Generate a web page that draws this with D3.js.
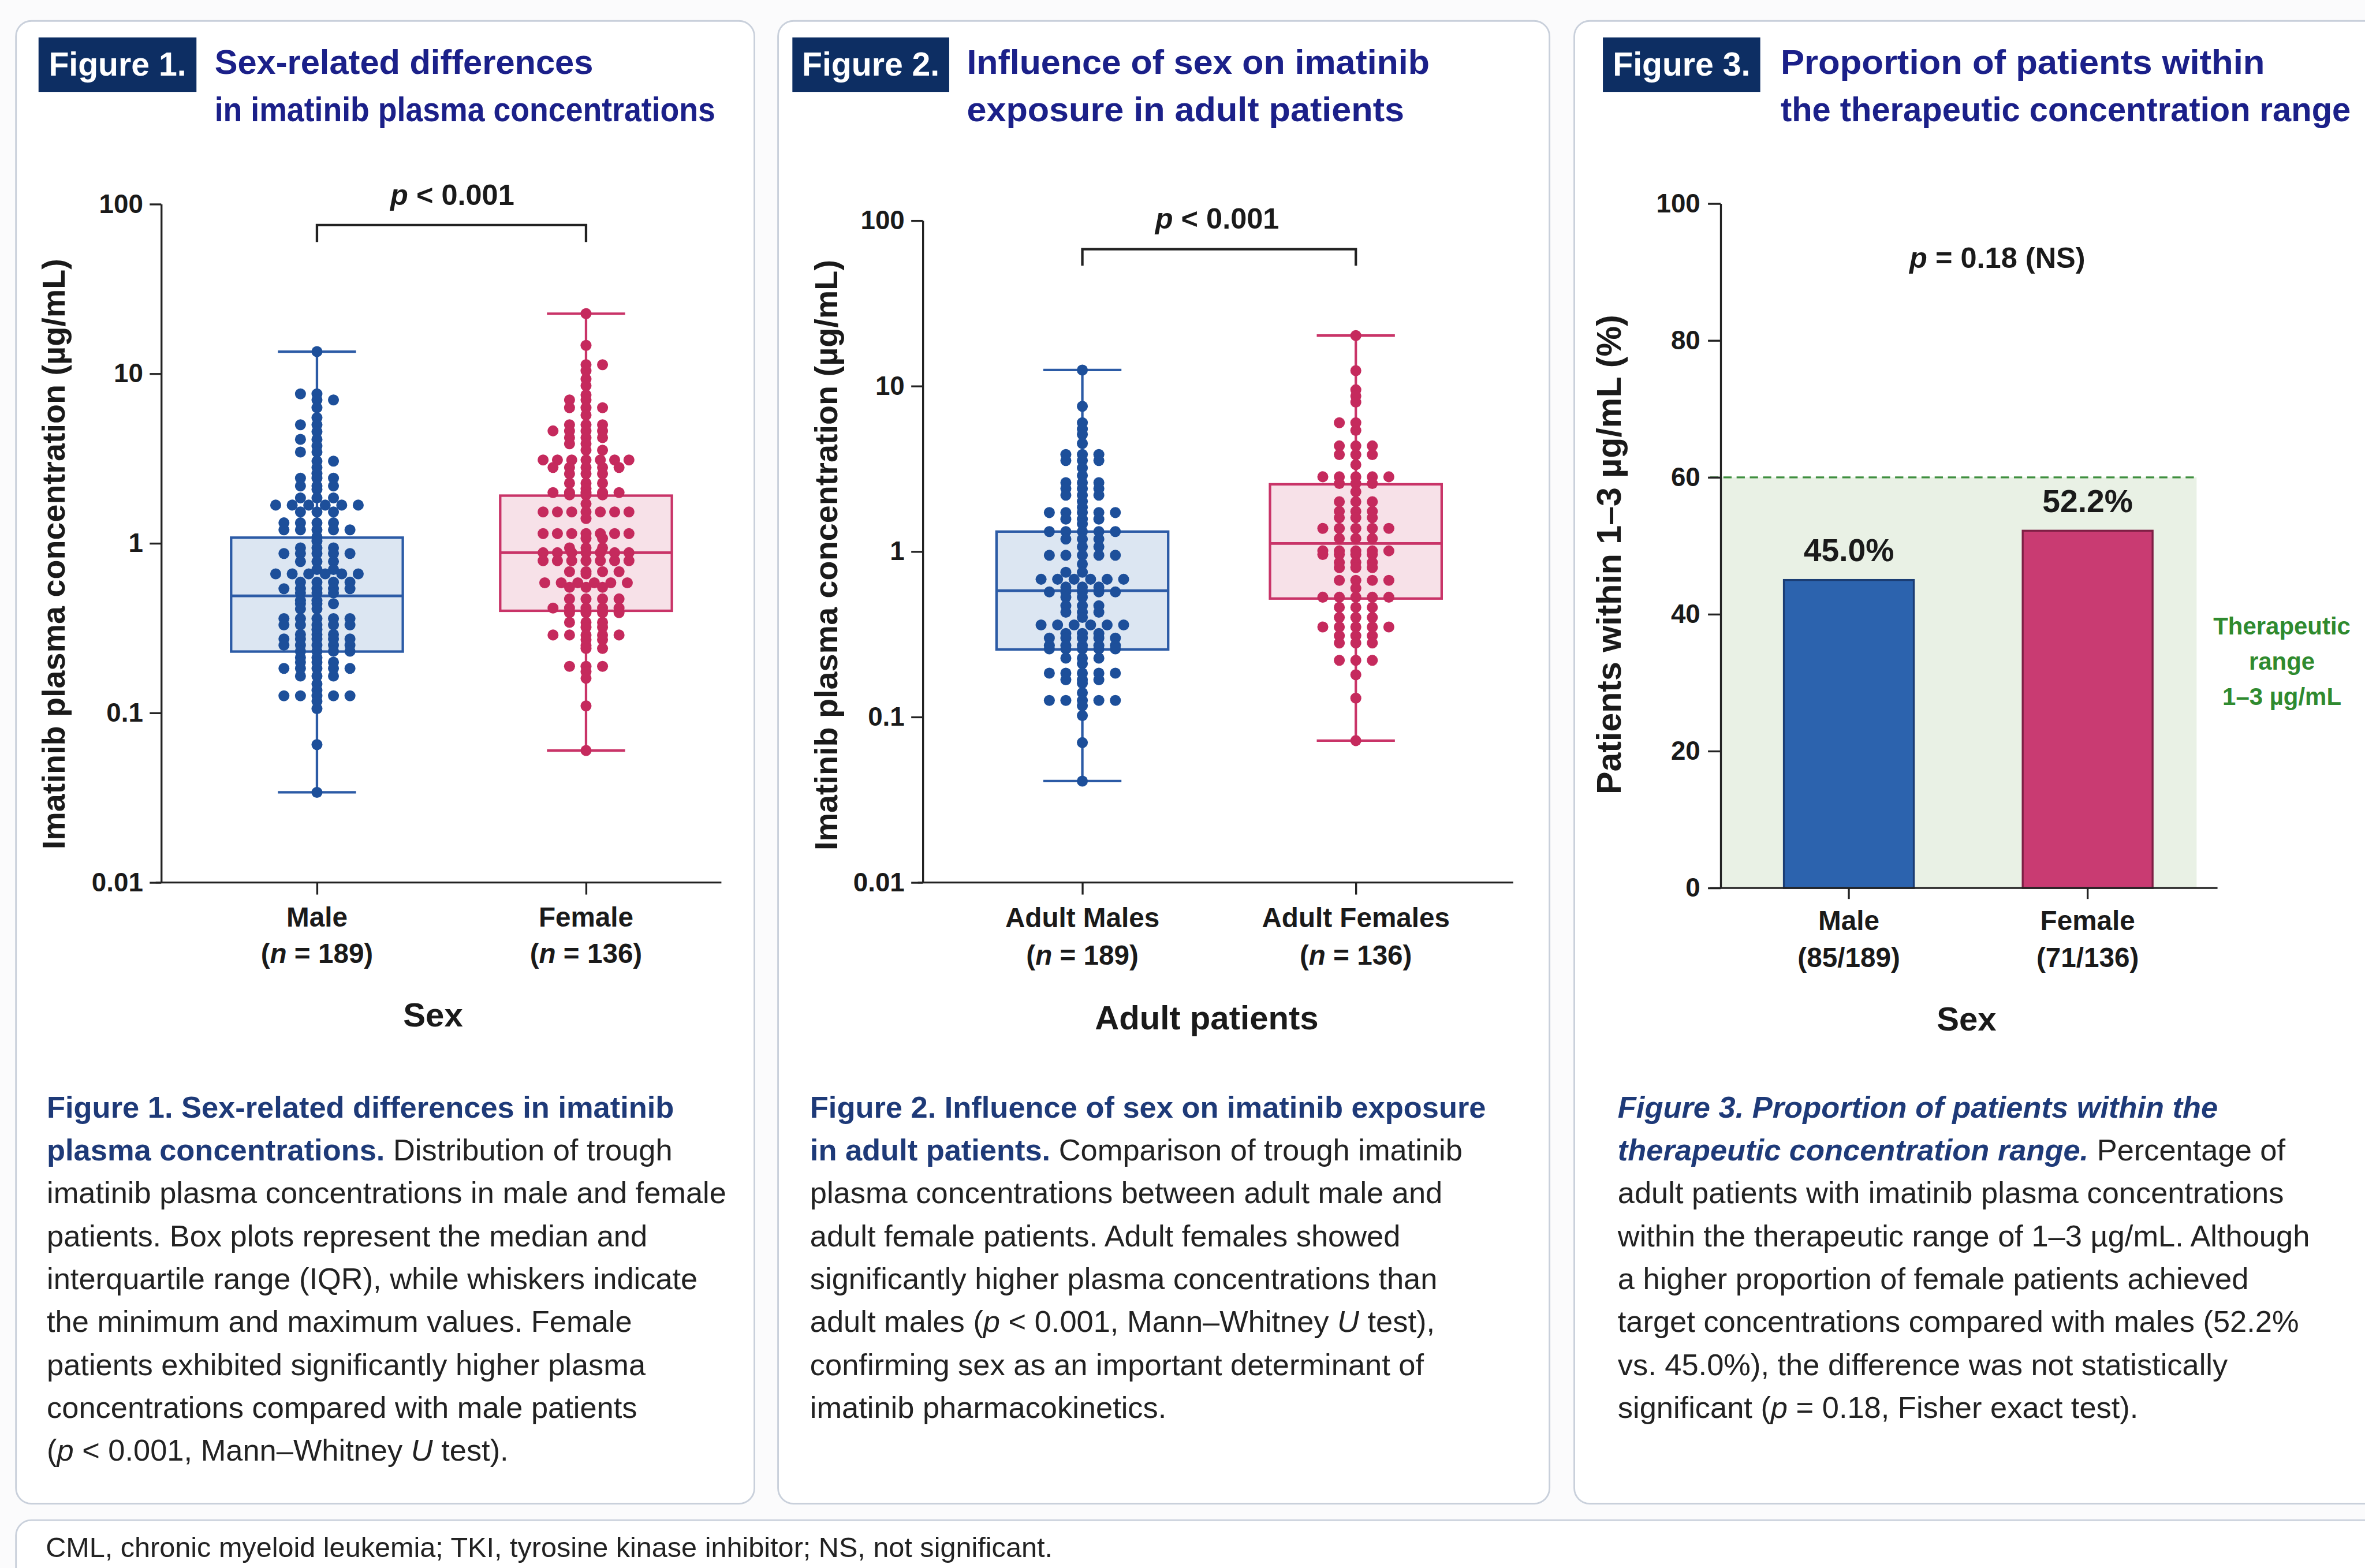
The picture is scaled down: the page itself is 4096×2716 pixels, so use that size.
<!DOCTYPE html>
<html>
<head>
<meta charset="utf-8">
<script src="https://cdn.jsdelivr.net/npm/d3@7"></script>
<style>
  html, body { margin: 0; padding: 0; background: #fbfbfc; }
  svg { display: block; }
  text { white-space: pre; }
</style>
</head>
<body>
<div id="chart"></div>
<script>
// reference is 4298 x 2850, page is drawn at 0.953 of it
var svgWidth = 4096, svgHeight = 2716;
var refWidth = 4298, refHeight = 2850;
var fontFamily = '"Liberation Sans", Arial, Helvetica, sans-serif';

// ---------- data ----------
var sexGroups = ["Male", "Female"];
var adultGroups = ["Adult Males", "Adult Females"];
var groupN = ["189", "136"];
var logTicks = [0.01, 0.1, 1, 10, 100];
var logTickLabels = ["0.01", "0.1", "1", "10", "100"];

// box stats: [min, q1, median, q3, max]  (µg/mL)
var fig1MaleBox = [0.034, 0.23, 0.49, 1.08, 13.5];
var fig1FemaleBox = [0.060, 0.40, 0.88, 1.91, 22.6];
var fig2MaleBox = [0.041, 0.256, 0.58, 1.32, 12.5];
var fig2FemaleBox = [0.072, 0.52, 1.12, 2.55, 20.2];

// individual points, grouped as [value, how many at that value]
var fig1MaleDots = [[13.5,1],[7.6,2],[7.0,2],[6.3,1],[5.5,1],[5.0,2],[4.55,1],[4.1,2],[3.75,1],[3.45,2],
  [3.05,2],[2.8,1],[2.58,1],[2.42,3],[2.18,3],[2.08,1],[1.85,3],[1.68,6],[1.53,3],[1.32,4],[1.2,5],
  [1.09,1],[1.03,1],[0.94,3],[0.87,5],[0.78,3],[0.70,2],[0.66,6],[0.59,4],[0.54,5],[0.51,3],[0.46,2],
  [0.44,3],[0.41,2],[0.36,5],[0.33,5],[0.31,1],[0.29,3],[0.273,5],[0.251,5],[0.231,4],[0.212,2],
  [0.199,3],[0.183,5],[0.165,3],[0.148,1],[0.136,1],[0.126,5],[0.117,1],[0.106,1],[0.065,1],[0.034,1]];
var fig1FemaleDots = [[22.6,1],[14.7,1],[11.3,2],[10.4,1],[9.3,1],[8.5,1],[7.5,1],[7.0,2],[6.3,3],[5.7,1],
  [5.0,3],[4.6,4],[4.2,3],[3.86,2],[3.54,2],[3.1,7],[2.8,5],[2.57,3],[2.26,3],[2.1,1],[1.99,5],[1.93,3],
  [1.71,1],[1.53,7],[1.4,1],[1.14,7],[1.07,2],[0.94,3],[0.88,7],[0.79,7],[0.68,4],[0.66,1],[0.585,6],
  [0.55,3],[0.47,4],[0.415,5],[0.39,4],[0.342,3],[0.32,2],[0.288,5],[0.27,2],[0.25,1],[0.24,2],
  [0.188,3],[0.175,1],[0.16,1],[0.11,1],[0.06,1]];
var fig2MaleDots = [[12.5,1],[7.55,1],[6.0,1],[5.5,1],[5.1,1],[4.5,1],[3.86,3],[3.55,3],[3.2,1],[2.88,1],
  [2.61,3],[2.40,3],[2.19,3],[2.01,1],[1.85,1],[1.72,5],[1.57,3],[1.47,1],[1.32,5],[1.19,3],[1.07,2],
  [0.95,5],[0.84,1],[0.75,2],[0.68,6],[0.61,3],[0.57,5],[0.53,2],[0.47,3],[0.43,3],[0.40,1],[0.36,6],
  [0.32,3],[0.30,5],[0.27,5],[0.258,5],[0.227,3],[0.21,1],[0.184,5],[0.168,3],[0.16,1],[0.14,1],
  [0.126,5],[0.117,1],[0.102,1],[0.070,1],[0.041,1]];
var fig2FemaleDots = [[20.2,1],[12.4,1],[9.5,1],[8.7,1],[8.0,1],[6.0,2],[5.4,1],[4.35,3],[3.85,3],[3.35,1],
  [2.83,5],[2.58,3],[2.3,1],[2.0,3],[1.75,3],[1.6,3],[1.38,5],[1.2,3],[1.01,5],[0.96,4],[0.86,3],[0.80,3],
  [0.67,4],[0.60,1],[0.53,5],[0.46,3],[0.40,3],[0.35,5],[0.31,3],[0.28,3],[0.22,3],[0.18,1],[0.13,1],[0.072,1]];

// figure 3
var barCategories = ["Male", "Female"];
var barFractions = ["(85/189)", "(71/136)"];
var barPercent = [45.0, 52.2];
var pctTicks = [0, 20, 40, 60, 80, 100];
var therapeuticZone = [0, 60];

var dotColors = ["#1d4f9a", "#c52a5d"];
var boxFills = ["#dce6f2", "#f7e1e8"];
var boxStrokes = ["#2c5ba6", "#c93468"];

// ---------- svg ----------
var svg = d3.select("#chart").append("svg")
  .attr("width", svgWidth)
  .attr("height", svgHeight)
  .attr("viewBox", `0 0 ${refWidth} ${refHeight}`)
  .style("font-family", fontFamily);

svg.append("rect").attr("width", refWidth).attr("height", refHeight).attr("fill", "#fbfbfc");

// panel cards
var cards = [[29, 38, 1342, 2695], [1414, 38, 1402, 2695], [2861, 38, 1500, 2695], [29, 2763, 4400, 200]];
cards.forEach(function(c) {
  svg.append("rect")
    .attr("x", c[0]).attr("y", c[1]).attr("width", c[2]).attr("height", c[3])
    .attr("rx", 28)
    .attr("fill", "#ffffff")
    .attr("stroke", "#c9d0db")
    .attr("stroke-width", 3);
});

// headers; title widths follow the reference
function header(x0, boxW, label, lines, widths, titleX) {
  svg.append("rect").attr("x", x0).attr("y", 68).attr("width", boxW).attr("height", 99).attr("fill", "#0d2e63");
  svg.append("text")
    .attr("x", x0 + boxW / 2).attr("y", 137)
    .attr("text-anchor", "middle")
    .attr("fill", "#ffffff").attr("font-size", 60).attr("font-weight", "bold")
    .text(label);
  lines.forEach(function(t, i) {
    svg.append("text")
      .attr("x", titleX).attr("y", 134 + i * 86)
      .attr("fill", "#1b2089").attr("font-size", 62).attr("font-weight", "bold")
      .attr("textLength", widths[i]).attr("lengthAdjust", "spacingAndGlyphs")
      .text(t);
  });
}
header(70, 287, "Figure 1.", ["Sex-related differences", "in imatinib plasma concentrations"], [688, 910], 390);
header(1440, 285, "Figure 2.", ["Influence of sex on imatinib", "exposure in adult patients"], [841, 795], 1757);
header(2913, 286, "Figure 3.", ["Proportion of patients within", "the therapeutic concentration range"], [880, 1036], 3236);

function styleAxis(sel, size) {
  sel.attr("font-family", null).attr("font-size", null);
  sel.select(".domain").attr("stroke", "#222").attr("stroke-width", 3.5);
  sel.selectAll(".tick line").attr("stroke", "#222").attr("stroke-width", 3.5);
  sel.selectAll(".tick text").attr("fill", "#1a1a1a").attr("font-size", size).attr("font-weight", "bold");
}

// rows of equal values spread sideways, like a column scatter
function rowDots(rows, cx, y) {
  var pts = [];
  rows.forEach(function(r, k) {
    var n = r[1];
    var step = n > 5 ? Math.min(30, 156 / (n - 1)) : 30;
    var side = k % 2 ? -1 : 1;
    for (var i = 0; i < n; i++) {
      var slot = i === 0 ? 0 : Math.ceil(i / 2) * (i % 2 ? side : -side);
      if (n > 5) slot = i - (n - 1) / 2;
      pts.push({ x: cx + slot * step, y: y(r[0]) });
    }
  });
  return pts;
}

function boxPanel(cfg) {
  var g = svg.append("g");
  var y = d3.scaleLog().domain([0.01, 100]).range([cfg.bottom, cfg.top]);
  var x = d3.scalePoint().domain(cfg.cats).range(cfg.centers);

  cfg.boxes.forEach(function(b, i) {
    var cx = x(cfg.cats[i]);
    var col = boxStrokes[i];
    // whiskers
    g.append("line").attr("x1", cx).attr("x2", cx).attr("y1", y(b[0])).attr("y2", y(b[1]))
      .attr("stroke", col).attr("stroke-width", 4.5);
    g.append("line").attr("x1", cx).attr("x2", cx).attr("y1", y(b[3])).attr("y2", y(b[4]))
      .attr("stroke", col).attr("stroke-width", 4.5);
    [b[0], b[4]].forEach(function(v) {
      g.append("line").attr("x1", cx - 71).attr("x2", cx + 71).attr("y1", y(v)).attr("y2", y(v))
        .attr("stroke", col).attr("stroke-width", 4.5);
    });
    // box
    g.append("rect")
      .attr("x", cx - 156).attr("width", 312)
      .attr("y", y(b[3])).attr("height", y(b[1]) - y(b[3]))
      .attr("fill", boxFills[i]).attr("stroke", col).attr("stroke-width", 4.5);
    g.append("line").attr("x1", cx - 156).attr("x2", cx + 156).attr("y1", y(b[2])).attr("y2", y(b[2]))
      .attr("stroke", col).attr("stroke-width", 5);
    // points
    g.selectAll(null)
      .data(rowDots(cfg.dots[i], cx, y))
      .enter()
      .append("circle")
      .attr("cx", d => d.x)
      .attr("cy", d => d.y)
      .attr("r", 10)
      .attr("fill", dotColors[i]);
  });

  // y axis
  var yAxis = d3.axisLeft(y)
    .tickValues(logTicks)
    .tickFormat((d, i) => logTickLabels[i])
    .tickSize(21).tickPadding(12).tickSizeOuter(0);
  g.append("g").attr("transform", `translate(${cfg.axisX},0)`).call(yAxis).call(styleAxis, 48);

  // x axis
  var xAxis = d3.axisBottom(x).tickSize(22).tickFormat("");
  var xg = g.append("g").attr("transform", `translate(0,${cfg.bottom})`).call(xAxis).call(styleAxis, 48);
  xg.select(".domain").remove();
  g.append("line").attr("x1", cfg.axisStart).attr("x2", cfg.axisEnd)
    .attr("y1", cfg.bottom).attr("y2", cfg.bottom)
    .attr("stroke", "#222").attr("stroke-width", 3.5);

  cfg.cats.forEach(function(c, i) {
    g.append("text").attr("x", x(c)).attr("y", cfg.labelY[0])
      .attr("text-anchor", "middle").attr("font-size", 50).attr("font-weight", "bold").attr("fill", "#1a1a1a")
      .text(c);
    var t = g.append("text").attr("x", x(c)).attr("y", cfg.labelY[1])
      .attr("text-anchor", "middle").attr("font-size", 50).attr("font-weight", "bold").attr("fill", "#1a1a1a");
    t.append("tspan").text("(");
    t.append("tspan").attr("font-style", "italic").text("n");
    t.append("tspan").text(" = " + groupN[i] + ")");
  });

  g.append("text").attr("x", cfg.titleX).attr("y", cfg.titleY)
    .attr("text-anchor", "middle").attr("font-size", 61).attr("font-weight", "bold").attr("fill", "#1a1a1a")
    .text(cfg.title);

  g.append("text")
    .attr("transform", `translate(${cfg.yLabelX},${cfg.yLabelY}) rotate(-90)`)
    .attr("text-anchor", "middle").attr("dominant-baseline", "central")
    .attr("font-size", 58.5).attr("font-weight", "bold").attr("fill", "#1a1a1a")
    .text("Imatinib plasma concentration (µg/mL)");

  // significance bracket
  var c0 = x(cfg.cats[0]), c1 = x(cfg.cats[1]);
  g.append("path")
    .attr("d", `M${c0},${cfg.bracketDrop}V${cfg.bracketY}H${c1}V${cfg.bracketDrop}`)
    .attr("fill", "none").attr("stroke", "#222").attr("stroke-width", 4.5);
  var p = g.append("text").attr("x", cfg.pX).attr("y", cfg.pY)
    .attr("text-anchor", "middle").attr("font-size", 53).attr("font-weight", "bold").attr("fill", "#1a1a1a");
  p.append("tspan").attr("font-style", "italic").text("p");
  p.append("tspan").text(" < 0.001");
}

boxPanel({
  axisX: 293, top: 371, bottom: 1604, axisStart: 283, axisEnd: 1311,
  cats: sexGroups, centers: [576, 1065],
  boxes: [fig1MaleBox, fig1FemaleBox], dots: [fig1MaleDots, fig1FemaleDots],
  pX: 822, pY: 373, bracketY: 409, bracketDrop: 440,
  labelY: [1684, 1750], title: "Sex", titleX: 787, titleY: 1866,
  yLabelX: 98, yLabelY: 1007
});

boxPanel({
  axisX: 1677, top: 401, bottom: 1604, axisStart: 1668, axisEnd: 2750,
  cats: adultGroups, centers: [1967, 2464],
  boxes: [fig2MaleBox, fig2FemaleBox], dots: [fig2MaleDots, fig2FemaleDots],
  pX: 2212, pY: 416, bracketY: 453, bracketDrop: 483,
  labelY: [1685, 1753], title: "Adult patients", titleX: 2193, titleY: 1871,
  yLabelX: 1502, yLabelY: 1009
});

// ---------- figure 3: bar chart ----------
var g3 = svg.append("g");
var y3 = d3.scaleLinear().domain([0, 100]).range([1614, 370]);
var x3 = d3.scaleBand().domain(barCategories).range([3143, 4011]).paddingInner(0.456).paddingOuter(0.228);

g3.append("rect")
  .attr("x", 3127).attr("width", 3992 - 3127)
  .attr("y", y3(therapeuticZone[1])).attr("height", y3(therapeuticZone[0]) - y3(therapeuticZone[1]))
  .attr("fill", "#e9f1e5");
g3.append("line")
  .attr("x1", 3108).attr("x2", 3992)
  .attr("y1", y3(therapeuticZone[1])).attr("y2", y3(therapeuticZone[1]))
  .attr("stroke", "#3f8f3f").attr("stroke-width", 3.5).attr("stroke-dasharray", "15,9");

var barFill = ["#2c63ae", "#c93b72"];
var barEdge = ["#1b3d74", "#7e1f45"];
g3.selectAll(".bar")
  .data(barPercent)
  .enter()
  .append("rect")
  .attr("class", "bar")
  .attr("x", (d, i) => x3(barCategories[i]))
  .attr("y", d => y3(d))
  .attr("width", x3.bandwidth())
  .attr("height", d => y3(0) - y3(d))
  .attr("fill", (d, i) => barFill[i])
  .attr("stroke", (d, i) => barEdge[i])
  .attr("stroke-width", 3.5);

g3.selectAll(".barlabel")
  .data(barPercent)
  .enter()
  .append("text")
  .attr("x", (d, i) => x3(barCategories[i]) + x3.bandwidth() / 2)
  .attr("y", d => y3(d) - 34)
  .attr("text-anchor", "middle").attr("font-size", 58).attr("font-weight", "bold").attr("fill", "#1a1a1a")
  .text(d => d.toFixed(1) + "%");

var yAxis3 = d3.axisLeft(y3).tickValues(pctTicks).tickSize(23).tickPadding(14).tickSizeOuter(0);
g3.append("g").attr("transform", "translate(3127,0)").call(yAxis3).call(styleAxis, 48);

var xAxis3 = d3.axisBottom(x3).tickSize(20).tickFormat("");
var xg3 = g3.append("g").attr("transform", `translate(0,${y3(0)})`).call(xAxis3).call(styleAxis, 48);
xg3.select(".domain").remove();
g3.append("line").attr("x1", 3108).attr("x2", 4030).attr("y1", y3(0)).attr("y2", y3(0))
  .attr("stroke", "#222").attr("stroke-width", 3.5);

barCategories.forEach(function(c, i) {
  var cx = x3(c) + x3.bandwidth() / 2;
  g3.append("text").attr("x", cx).attr("y", 1691)
    .attr("text-anchor", "middle").attr("font-size", 50).attr("font-weight", "bold").attr("fill", "#1a1a1a")
    .text(c);
  g3.append("text").attr("x", cx).attr("y", 1758)
    .attr("text-anchor", "middle").attr("font-size", 50).attr("font-weight", "bold").attr("fill", "#1a1a1a")
    .text(barFractions[i]);
});

g3.append("text").attr("x", 3574).attr("y", 1873)
  .attr("text-anchor", "middle").attr("font-size", 61).attr("font-weight", "bold").attr("fill", "#1a1a1a")
  .text("Sex");

g3.append("text")
  .attr("transform", "translate(2924,1008) rotate(-90)")
  .attr("text-anchor", "middle").attr("dominant-baseline", "central")
  .attr("font-size", 62).attr("font-weight", "bold").attr("fill", "#1a1a1a")
  .text("Patients within 1–3 µg/mL (%)");

var pt = g3.append("text").attr("x", 3630).attr("y", 487)
  .attr("text-anchor", "middle").attr("font-size", 53).attr("font-weight", "bold").attr("fill", "#1a1a1a");
pt.append("tspan").attr("font-style", "italic").text("p");
pt.append("tspan").text(" = 0.18 (NS)");

["Therapeutic", "range", "1–3 µg/mL"].forEach(function(t, i) {
  g3.append("text").attr("x", 4147).attr("y", 1153 + i * 64)
    .attr("text-anchor", "middle").attr("font-size", 44).attr("font-weight", "bold").attr("fill", "#2f8a2f")
    .text(t);
});

// ---------- captions ----------
var caption1 = [
  [["b", "Figure 1. Sex-related differences in imatinib"]],
  [["b", "plasma concentrations."], ["n", " Distribution of trough"]],
  [["n", "imatinib plasma concentrations in male and female"]],
  [["n", "patients. Box plots represent the median and"]],
  [["n", "interquartile range (IQR), while whiskers indicate"]],
  [["n", "the minimum and maximum values. Female"]],
  [["n", "patients exhibited significantly higher plasma"]],
  [["n", "concentrations compared with male patients"]],
  [["n", "("], ["i", "p"], ["n", " < 0.001, Mann–Whitney "], ["i", "U"], ["n", " test)."]]
];
var caption2 = [
  [["b", "Figure 2. Influence of sex on imatinib exposure"]],
  [["b", "in adult patients."], ["n", " Comparison of trough imatinib"]],
  [["n", "plasma concentrations between adult male and"]],
  [["n", "adult female patients. Adult females showed"]],
  [["n", "significantly higher plasma concentrations than"]],
  [["n", "adult males ("], ["i", "p"], ["n", " < 0.001, Mann–Whitney "], ["i", "U"], ["n", " test),"]],
  [["n", "confirming sex as an important determinant of"]],
  [["n", "imatinib pharmacokinetics."]]
];
var caption3 = [
  [["bi", "Figure 3. Proportion of patients within the"]],
  [["bi", "therapeutic concentration range."], ["n", " Percentage of"]],
  [["n", "adult patients with imatinib plasma concentrations"]],
  [["n", "within the therapeutic range of 1–3 µg/mL. Although"]],
  [["n", "a higher proportion of female patients achieved"]],
  [["n", "target concentrations compared with males (52.2%"]],
  [["n", "vs. 45.0%), the difference was not statistically"]],
  [["n", "significant ("], ["i", "p"], ["n", " = 0.18, Fisher exact test)."]]
];

function caption(lines, x0) {
  lines.forEach(function(line, i) {
    var t = svg.append("text").attr("x", x0).attr("y", 2031 + i * 78)
      .attr("font-size", 55).attr("fill", "#222");
    line.forEach(function(seg) {
      var s = t.append("tspan").text(seg[1]);
      if (seg[0] === "b" || seg[0] === "bi") s.attr("font-weight", "bold").attr("fill", "#1e3a78");
      if (seg[0] === "bi" || seg[0] === "i") s.attr("font-style", "italic");
    });
  });
}
caption(caption1, 85);
caption(caption2, 1472);
caption(caption3, 2940);

svg.append("text").attr("x", 83).attr("y", 2830)
  .attr("font-size", 51).attr("fill", "#222")
  .text("CML, chronic myeloid leukemia; TKI, tyrosine kinase inhibitor; NS, not significant.");
</script>
</body>
</html>
